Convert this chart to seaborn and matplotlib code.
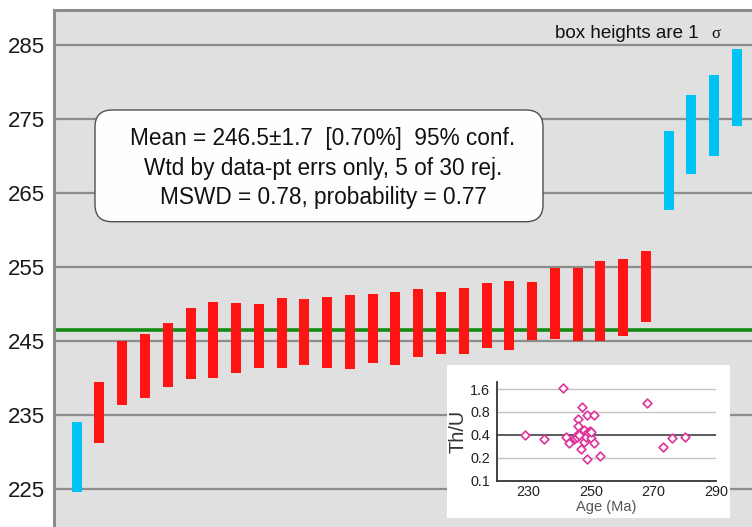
import numpy as np
import pandas as pd
import matplotlib
matplotlib.use("Agg")
import matplotlib.pyplot as plt
import seaborn as sns
from matplotlib.patches import FancyBboxPatch
from matplotlib.ticker import FixedLocator, NullLocator

# Weighted-mean age plot (box heights 1 sigma)
age_mid = [229.3, 235.3, 240.7, 241.65, 243.1, 244.7, 245.15, 245.4, 245.7, 246.1,
           246.2, 246.15, 246.2, 246.7, 246.7, 247.45, 247.4, 247.7, 248.45, 248.45,
           249.05, 250.0, 249.95, 250.4, 250.9, 252.35, 268.05, 272.9, 275.45, 279.3]
sigma1 = [4.7, 4.1, 4.3, 4.35, 4.3, 4.8, 5.15, 4.7, 4.3, 4.7,
          4.5, 4.75, 5.0, 4.7, 4.9, 4.55, 4.2, 4.4, 4.45, 4.65,
          3.95, 4.8, 4.95, 5.4, 5.2, 4.75, 5.35, 5.4, 5.45, 5.2]
rejected = [1] + [0] * 25 + [1] * 4
mean_age = 246.5
y_ticks = [225, 235, 245, 255, 265, 275, 285]

# Inset: Th/U vs age
thu_age = [228.9, 234.9, 240.9, 241.9, 242.9, 244.5, 245.0, 245.5, 245.8, 245.8,
           245.8, 246.2, 246.9, 247.0, 247.6, 247.9, 248.3, 248.8, 248.8, 249.1,
           249.7, 250.0, 250.1, 250.9, 250.9, 252.9, 267.9, 272.9, 275.8, 280.0]
thu = [0.40, 0.357, 1.66, 0.37, 0.315, 0.35, 0.36, 0.37, 0.41, 0.65,
       0.52, 0.40, 0.26, 0.93, 0.46, 0.32, 0.38, 0.72, 0.19, 0.43,
       0.45, 0.36, 0.44, 0.72, 0.31, 0.21, 1.04, 0.28, 0.36, 0.38]
thu_ticks = [0.1, 0.2, 0.4, 0.8, 1.6]

sns.set_theme(style="white")
plt.rcParams["font.family"] = ["Liberation Sans", "DejaVu Sans"]

df = pd.DataFrame({"n": np.arange(1, len(age_mid) + 1),
                   "mid": age_mid, "sig": sigma1, "rej": rejected})
df["lo"] = df["mid"] - df["sig"]
df["h"] = 2 * df["sig"]

W, H = 752, 527
fig = plt.figure(figsize=(W / 100, H / 100), dpi=100)
ax = fig.add_axes([53.5 / W, 0, 1 - 53.5 / W, 1 - 10 / H])
ax.set_facecolor("#e0e0e0")

sns.barplot(data=df, x="n", y="h", bottom=df["lo"].values, native_scale=True,
            width=0.44, errorbar=None, color="#ff1414", saturation=1,
            linewidth=0, ax=ax, zorder=3)
for p, r in zip(ax.patches, df["rej"]):
    p.set_facecolor("#00c3f5" if r else "#ff1414")

ax.axhline(mean_age, color="#138a13", lw=2.6, zorder=2)

ax.set_xlim(-0.02, 30.66)
ax.set_ylim(219.86, 289.73)
ax.set_xticks([])
ax.set_xlabel("")
ax.set_ylabel("")
ax.yaxis.set_major_locator(FixedLocator(y_ticks))
ax.yaxis.set_minor_locator(FixedLocator([230, 240, 250, 260, 270, 280]))
ax.yaxis.grid(True, which="major", color="#8c8c8c", lw=1.6)
ax.set_axisbelow(True)
ax.tick_params(axis="y", which="major", direction="out", length=5, width=1.6,
               color="#8c8c8c", pad=1, labelsize=16, labelcolor="#1a1a1a")
ax.tick_params(axis="y", which="minor", direction="in", length=4, width=1.2,
               color="#8c8c8c")
for side in ["right", "bottom"]:
    ax.spines[side].set_visible(False)
for side in ["left", "top"]:
    ax.spines[side].set_color("#8c8c8c")
    ax.spines[side].set_linewidth(2.2)

# statistics box
box = FancyBboxPatch((0.95, (H - 221.7) / 100), 4.48, 1.117,
                     boxstyle="round,pad=0,rounding_size=0.17",
                     transform=fig.dpi_scale_trans, facecolor="#fefefe",
                     edgecolor="#505050", lw=1.0, zorder=2)
fig.add_artist(box)
lines = ["Mean = 246.5\u00b11.7  [0.70%]  95% conf.",
         "Wtd by data-pt errs only, 5 of 30 rej.",
         "MSWD = 0.78, probability = 0.77"]
for txt, yb in zip(lines, [145, 175, 204]):
    fig.text(323 / W, 1 - yb / H, txt, ha="center", va="baseline",
             fontsize=16.3, color="#111111", zorder=4)

fig.text(555 / W, 1 - 38.3 / H, "box heights are 1", ha="left", va="baseline",
         fontsize=13.5, color="#111111")
fig.text(711 / W, 1 - 38.3 / H, "\u03c3", ha="left", va="baseline",
         fontsize=12, family="Liberation Serif", color="#111111")

# inset panel
bg = fig.add_axes([447 / W, 9 / H, 283 / W, 153 / H])
bg.set_facecolor("white")
bg.set_xticks([])
bg.set_yticks([])
for s in bg.spines.values():
    s.set_visible(False)

ins = fig.add_axes([497.3 / W, (H - 480.7) / H, (716 - 497.3) / W, 99 / H])
ins.set_facecolor("white")
ins.set_yscale("log")
for v in [0.2, 0.8, 1.6]:
    ins.axhline(v, color="#c4c4c4", lw=1.0, zorder=0)
ins.axhline(0.4, color="#404040", lw=1.2, zorder=1)
sns.scatterplot(x=thu_age, y=thu, marker="D", s=20, ax=ins, zorder=3)
pts = ins.collections[0]
pts.set_facecolor("white")
pts.set_edgecolor("#e0329b")
pts.set_linewidth(1.2)
ins.set_xlim(220, 290)
ins.set_ylim(0.1, 2.0)
ins.yaxis.set_major_locator(FixedLocator(thu_ticks))
ins.yaxis.set_minor_locator(NullLocator())
ins.set_yticklabels([str(t) for t in thu_ticks])
ins.xaxis.set_major_locator(FixedLocator([230, 250, 270, 290]))
ins.xaxis.set_minor_locator(FixedLocator([240, 260, 280]))
ins.tick_params(axis="y", which="both", length=0, pad=5, labelsize=10.4,
                labelcolor="#222222")
ins.tick_params(axis="x", which="both", direction="in", length=4, width=1.2,
                color="#333333", pad=3, labelsize=10.4, labelcolor="#222222")
for side in ["top", "right"]:
    ins.spines[side].set_visible(False)
for side in ["left", "bottom"]:
    ins.spines[side].set_color("#333333")
    ins.spines[side].set_linewidth(1.3)
ins.set_ylabel("Th/U", fontsize=14.3, color="#333333", labelpad=2)
ins.set_xlabel("Age (Ma)", fontsize=10.5, color="#555555", labelpad=1)

fig.savefig("out.png", dpi=100)
